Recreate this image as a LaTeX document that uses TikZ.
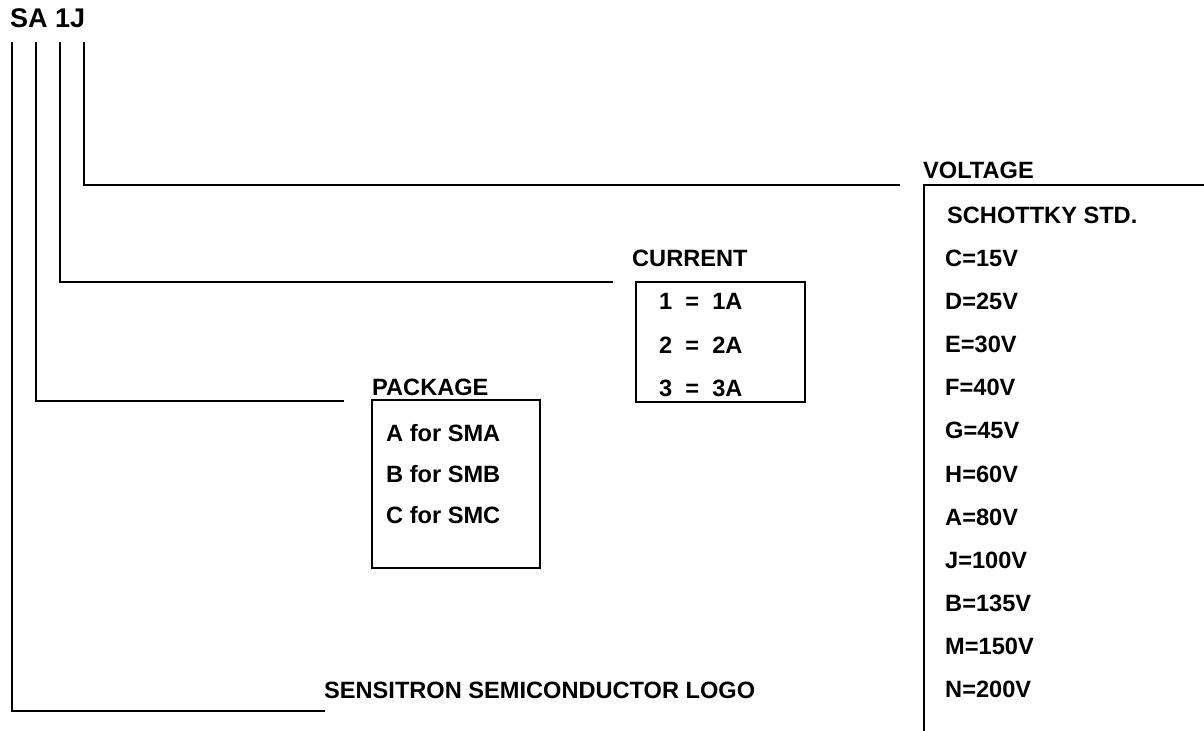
\documentclass[tikz,border=0pt]{standalone}
\usepackage{fontspec}
\setmainfont{Liberation Sans}
\usepackage{tikz}

\begin{document}
\begin{tikzpicture}[x=0.5pt,y=-0.5pt,line width=1.2pt,
  lbl/.style={anchor=base west,inner sep=0pt,font=\bfseries\fontsize{11.8}{14}\selectfont}]
\useasboundingbox (0,0) rectangle (1204,731);
% % part number
\node[lbl,font=\bfseries\fontsize{13.5}{15}\selectfont] (code) at (9,28) {SA 1J};
\coordinate (tLogo) at (12,42);
\coordinate (tPkg) at (36,42);
\coordinate (tCur) at (60,42);
\coordinate (tVolt) at (84,42);
% ends of the leader lines
\coordinate (eVolt) at (900,185);
\coordinate (eCur) at (613,282);
\coordinate (ePkg) at (344,401);
\coordinate (eLogo) at (325,711);
\draw (tVolt) |- (eVolt);
\draw (tCur) |- (eCur);
\draw (tPkg) |- (ePkg);
\draw (tLogo) |- (eLogo);
% % voltage column
\node[lbl] (volt) at (922,178.5) {VOLTAGE};
\draw (1204,185) -- (924,185) -- (924,731);
\node[lbl] (std) at (946,223.5) {SCHOTTKY STD.};
\node[lbl] (vC) at (944,266.6) {C=15V};
\node[lbl] (vD) at (944,309.7) {D=25V};
\node[lbl] (vE) at (944,352.8) {E=30V};
\node[lbl] (vF) at (944,395.9) {F=40V};
\node[lbl] (vG) at (944,439.0) {G=45V};
\node[lbl] (vH) at (944,482.1) {H=60V};
\node[lbl] (vA) at (944,525.2) {A=80V};
\node[lbl] (vJ) at (944,568.3) {J=100V};
\node[lbl] (vB) at (944,611.4) {B=135V};
\node[lbl] (vM) at (944,654.5) {M=150V};
\node[lbl] (vN) at (944,697.6) {N=200V};
% % current box
\node[lbl] (cur) at (631,266.5) {CURRENT};
\draw (636,282) rectangle (805,402);
\node[lbl] (c1) at (658,310) {1\ \ =\ \ 1A};
\node[lbl] (c2) at (658,354) {2\ \ =\ \ 2A};
\node[lbl] (c3) at (658,397) {3\ \ =\ \ 3A};
% % package box
\node[lbl] (pkg) at (371,396) {PACKAGE};
\draw (372,400) rectangle (540,568);
\node[lbl] (pA) at (385,441.5) {A for SMA};
\node[lbl] (pB) at (385,482.5) {B for SMB};
\node[lbl] (pC) at (385,523.5) {C for SMC};
% logo
\node[lbl] (logo) at (323,698.5) {SENSITRON SEMICONDUCTOR LOGO};
\end{tikzpicture}
\end{document}
